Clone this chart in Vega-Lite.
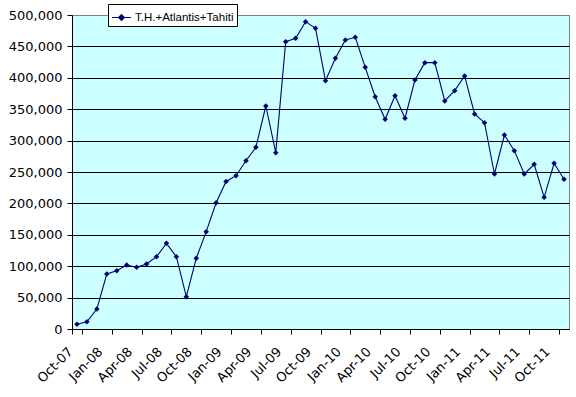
{
  "$schema": "https://vega.github.io/schema/vega-lite/v6.json",
  "width": 497,
  "height": 314,
  "autosize": "none",
  "padding": {"left": 72, "top": 15, "right": 7, "bottom": 68},
  "background": "white",
  "config": {"view": {"fill": "#CCFFFF", "stroke": "#808080", "strokeWidth": 1}},
  "data": {"values": [
    {"month": "Oct-07", "value": 7500},
    {"month": "Nov-07", "value": 11600},
    {"month": "Dec-07", "value": 31800},
    {"month": "Jan-08", "value": 87600},
    {"month": "Feb-08", "value": 92900},
    {"month": "Mar-08", "value": 101900},
    {"month": "Apr-08", "value": 98200},
    {"month": "May-08", "value": 103500},
    {"month": "Jun-08", "value": 115100},
    {"month": "Jul-08", "value": 136400},
    {"month": "Aug-08", "value": 115100},
    {"month": "Sep-08", "value": 51500},
    {"month": "Oct-08", "value": 112500},
    {"month": "Nov-08", "value": 155000},
    {"month": "Dec-08", "value": 201100},
    {"month": "Jan-09", "value": 235000},
    {"month": "Feb-09", "value": 244100},
    {"month": "Mar-09", "value": 268000},
    {"month": "Apr-09", "value": 289300},
    {"month": "May-09", "value": 355100},
    {"month": "Jun-09", "value": 280800},
    {"month": "Jul-09", "value": 457500},
    {"month": "Aug-09", "value": 462900},
    {"month": "Sep-09", "value": 489400},
    {"month": "Oct-09", "value": 478800},
    {"month": "Nov-09", "value": 395400},
    {"month": "Dec-09", "value": 431000},
    {"month": "Jan-10", "value": 460200},
    {"month": "Feb-10", "value": 464500},
    {"month": "Mar-10", "value": 416700},
    {"month": "Apr-10", "value": 369900},
    {"month": "May-10", "value": 333900},
    {"month": "Jun-10", "value": 371500},
    {"month": "Jul-10", "value": 335500},
    {"month": "Aug-10", "value": 396500},
    {"month": "Sep-10", "value": 424100},
    {"month": "Oct-10", "value": 424100},
    {"month": "Nov-10", "value": 363100},
    {"month": "Dec-10", "value": 379500},
    {"month": "Jan-11", "value": 402900},
    {"month": "Feb-11", "value": 342400},
    {"month": "Mar-11", "value": 328500},
    {"month": "Apr-11", "value": 246800},
    {"month": "May-11", "value": 308900},
    {"month": "Jun-11", "value": 284000},
    {"month": "Jul-11", "value": 246800},
    {"month": "Aug-11", "value": 262300},
    {"month": "Sep-11", "value": 209700},
    {"month": "Oct-11", "value": 263900},
    {"month": "Nov-11", "value": 238400}
  ]},
  "mark": {
    "type": "line",
    "interpolate": "linear",
    "strokeWidth": 1.1,
    "point": {"shape": "diamond", "size": 30, "filled": true}
  },
  "encoding": {
    "x": {
      "field": "month",
      "type": "nominal",
      "sort": null,
      "scale": {"paddingInner": 0, "paddingOuter": 0},
      "axis": {
        "title": null,
        "values": ["Oct-07", "Jan-08", "Apr-08", "Jul-08", "Oct-08", "Jan-09", "Apr-09", "Jul-09", "Oct-09", "Jan-10", "Apr-10", "Jul-10", "Oct-10", "Jan-11", "Apr-11", "Jul-11", "Oct-11"],
        "tickBand": "extent",
        "labelAngle": -45,
        "labelOffset": -11,
        "labelPadding": 11,
        "tickSize": 5,
        "tickColor": "black",
        "domainColor": "black",
        "labelFont": "DejaVu Sans",
        "labelFontSize": 13,
        "labelColor": "black",
        "grid": false
      }
    },
    "y": {
      "field": "value",
      "type": "quantitative",
      "scale": {"domain": [0, 500000], "nice": false},
      "axis": {
        "title": null,
        "values": [0, 50000, 100000, 150000, 200000, 250000, 300000, 350000, 400000, 450000, 500000],
        "format": ",d",
        "grid": true,
        "gridColor": {"condition": {"test": "datum.value === 500000", "value": "#808080"}, "value": "black"},
        "gridOpacity": 1,
        "tickSize": 5,
        "labelPadding": 5,
        "tickColor": "black",
        "domainColor": "black",
        "labelFont": "DejaVu Sans",
        "labelFontSize": 13,
        "labelColor": "black"
      }
    },
    "color": {
      "datum": "T.H.+Atlantis+Tahiti",
      "type": "nominal",
      "scale": {"range": ["#000070"]},
      "legend": {
        "orient": "none",
        "legendX": 36,
        "legendY": -11,
        "title": null,
        "strokeColor": "black",
        "fillColor": "white",
        "padding": 3,
        "symbolType": "M-1,0H1M0,-0.3L0.3,0L0,0.3L-0.3,0Z",
        "symbolSize": 361,
        "symbolStrokeWidth": 1.2,
        "symbolFillColor": "#000070",
        "symbolStrokeColor": "#000070",
        "labelFont": "Liberation Sans",
        "labelFontSize": 11.5,
        "labelColor": "black",
        "labelOffset": 3
      }
    }
  }
}
